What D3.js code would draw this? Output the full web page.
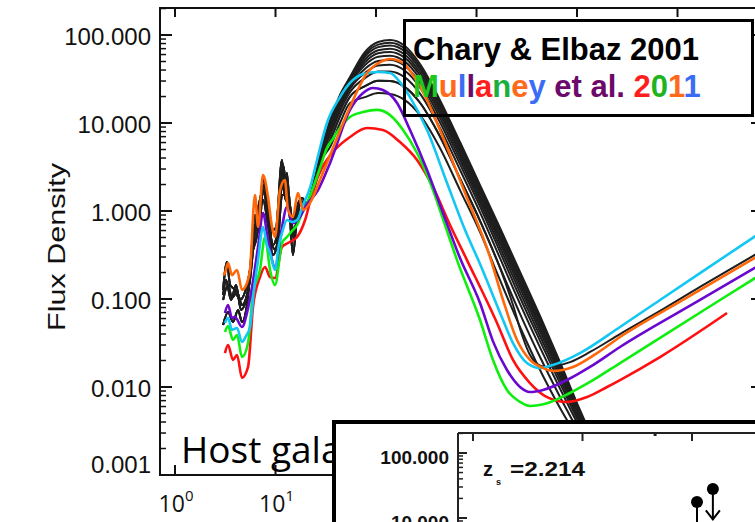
<!DOCTYPE html>
<html><head><meta charset="utf-8">
<script src="https://cdn.jsdelivr.net/npm/d3@7/dist/d3.min.js"></script>
<style>body{margin:0;background:#fff}svg{display:block}</style>
</head><body>
<svg id="c" width="755" height="522"></svg>
<script>
// ---------------- DATA ----------------
// Mullaney et al. 2011 templates: [wavelength (um), flux density]
const mullCyan = [[3.14,0.0534],[3.37,0.0608],[3.69,0.0445],[4.14,0.0468],[4.64,0.0325],[5.09,0.038],[5.57,0.0481],[6.11,0.127],[6.70,0.277],[7.51,0.658],[8.23,0.411],[8.82,0.333],[9.89,0.214],[10.8,0.411],[11.6,0.562],[13.0,0.791],[14.6,0.75],[16.4,0.791],[18.8,1.17],[22.0,1.82],[25.9,3.8],[32.5,10.0],[43.8,19.7],[55.1,28.5],[74.3,36.0],[105,38.0],[138,37.0],[173,29.2],[218,19.7],[322,8.32],[509,2.08],[769,0.608],[1084,0.25],[1714,0.07],[2307,0.0316],[3179,0.0187],[4285,0.0164],[5770,0.0178],[10700,0.0243],[26800,0.0481],[67000,0.0975],[167500,0.197],[709000,0.593]];
const mullOrange = [[3.01,0.187],[3.14,0.197],[3.37,0.257],[3.69,0.187],[4.14,0.214],[4.64,0.127],[5.20,0.152],[5.57,0.214],[6.25,1.52],[6.70,0.658],[7.51,2.57],[8.42,1.44],[9.23,0.658],[9.89,0.507],[11.1,1.73],[12.4,2.25],[13.3,1.03],[14.9,0.855],[16.7,1.6],[18.8,1.03],[22.0,1.23],[27.7,2.25],[37.3,5.2],[55.1,15.2],[81.4,37.0],[110,49.3],[138,53.4],[186,48.1],[233,35.1],[322,18.2],[433,8.32],[769,1.6],[1363,0.3],[1836,0.0975],[2530,0.0342],[3405,0.0203],[4590,0.0164],[5770,0.0152],[9120,0.0169],[15810,0.0243],[26800,0.037],[113500,0.0975],[709000,0.333]];
const mullPurple = [[3.14,0.0693],[3.37,0.0855],[3.69,0.0608],[3.95,0.0624],[4.64,0.0481],[5.20,0.0693],[5.84,0.137],[6.70,0.39],[7.51,0.949],[8.42,0.468],[9.89,0.231],[11.6,0.658],[13.0,1.11],[14.9,0.731],[17.5,0.855],[19.7,1.11],[26.5,1.73],[34.9,3.51],[55.1,14.1],[74.3,21.9],[93.3,25.0],[117,23.7],[162,16.9],[218,8.32],[322,2.92],[464,0.949],[685,0.292],[1084,0.0901],[1459,0.033],[2010,0.0156],[2710,0.01],[3405,0.00877],[4590,0.00925],[7950,0.012],[13470,0.0169],[26800,0.0285],[167500,0.0975],[709000,0.257]];
const mullGreen = [[3.14,0.0422],[3.37,0.0494],[3.78,0.0342],[4.14,0.039],[4.64,0.0219],[5.33,0.0316],[5.97,0.117],[7.01,0.214],[7.86,0.507],[8.82,0.214],[9.89,0.144],[11.6,0.433],[13.0,0.507],[14.9,0.608],[16.4,0.693],[18.4,0.949],[20.6,1.23],[27.7,3.08],[32.5,5.2],[36.5,6.41],[43.8,8.77],[55.1,11.7],[74.3,13.3],[102,14.1],[138,12.3],[186,8.32],[256,4.56],[369,1.73],[486,0.693],[640,0.277],[1084,0.0577],[1459,0.0203],[2010,0.00925],[2710,0.00676],[3405,0.00608],[5030,0.00653],[8520,0.00855],[13470,0.0114],[26800,0.0187],[265000,0.0975],[709000,0.197]];
const mullRed = [[3.14,0.0243],[3.37,0.03],[3.78,0.0203],[4.14,0.0231],[4.64,0.0127],[5.33,0.0169],[5.97,0.0811],[7.01,0.178],[7.86,0.231],[8.82,0.178],[9.89,0.173],[11.6,0.39],[13.3,0.433],[16.4,0.507],[19.7,0.791],[23.6,1.73],[29.0,3.08],[37.3,4.68],[55.1,6.93],[81.4,8.77],[117,8.32],[173,6.08],[256,3.8],[369,1.87],[545,0.693],[804,0.277],[1600,0.0534],[2307,0.0203],[3405,0.0111],[5030,0.00769],[7950,0.00676],[12580,0.00769],[19900,0.01],[26800,0.012],[67000,0.0219],[311000,0.0693]];

// Chary & Elbaz 2001 templates: mid-IR parts (noisy PAH region)
const ceMIR_A = [[3.01,0.127],[3.29,0.263],[3.53,0.144],[3.95,0.127],[4.43,0.0975],[4.97,0.12],[5.57,0.214],[6.25,0.901],[6.70,0.693],[7.51,2.37],[8.23,1.33],[9.23,0.608],[10.1,0.641],[11.6,3.8],[12.4,1.73],[13.0,2.7],[13.9,0.901],[14.9,0.316],[16.4,0.901],[18.4,1.41]];
const ceMIR_B = [[3.01,0.0975],[3.37,0.144],[3.69,0.103],[4.14,0.12],[4.64,0.0855],[5.20,0.111],[5.71,0.243],[6.25,0.693],[6.85,0.577],[7.51,1.73],[8.42,0.901],[9.44,0.411],[10.35,0.534],[11.6,1.97],[12.7,1.33],[13.9,1.17],[15.3,0.468],[16.7,1.17],[19.2,1.23]];
const ceMIR_C = [[3.01,0.0507],[3.37,0.0711],[3.78,0.0548],[4.24,0.075],[4.64,0.0548],[5.20,0.0855],[5.84,0.316],[6.40,0.468],[7.51,1.33],[8.42,0.693],[9.44,0.316],[10.6,0.468],[11.6,1.52],[13.0,1.52],[14.3,0.693],[15.6,0.901],[17.5,1.33],[20.1,1.17]];
const ceMIR_D = [[3.01,0.111],[3.22,0.164],[3.61,0.0975],[4.05,0.144],[4.54,0.075],[5.09,0.0975],[5.57,0.164],[6.11,0.468],[6.55,0.901],[7.17,1.52],[7.69,1.97],[8.42,1.17],[9.23,0.411],[10.1,0.36],[11.1,1.33],[11.9,3.33],[12.7,1.97],[13.6,1.52],[14.6,0.608],[16.0,0.693],[17.5,1.17],[19.7,1.2]];
// far-IR parts, shared wavelength grid
const ceLambda = [20.6,24.7,29.0,34.9,43.8,55.1,77.8,105,138,194,274,433,685,1084,1714,2710,4285,6777,10700,16940];
const ce00 = [1.23,2.37,5.20,10.8,20.8,33.3,64.1,83.2,87.7,75.0,46.8,18.2,6.08,1.97,0.641,0.203,0.0641,0.0192,0.00548,0.00169];
const ce01 = [1.23,2.34,5.12,10.4,20.0,32.2,60.4,77.8,81.7,69.8,43.8,17.1,5.71,1.85,0.598,0.189,0.0597,0.0181,0.00526,0.00164];
const ce02 = [1.23,2.32,5.04,10.1,19.3,31.1,57.0,72.8,76.2,65.2,40.9,16.1,5.36,1.75,0.560,0.175,0.0557,0.0171,0.00505,0.00159];
const ce03 = [1.22,2.29,4.94,9.66,18.5,29.9,53.1,67.1,70.0,59.8,37.8,14.9,4.98,1.62,0.515,0.161,0.0512,0.0158,0.0048,0.00153];
const ce04 = [1.22,2.26,4.85,9.25,17.7,28.7,49.4,62.1,64.3,55.0,34.9,13.8,4.61,1.51,0.475,0.148,0.047,0.0148,0.00456,0.00148];
const ce05 = [1.21,2.23,4.75,8.81,16.8,27.4,45.6,56.5,58.2,49.8,31.8,12.7,4.23,1.38,0.433,0.134,0.0426,0.0136,0.0043,0.00142];
const ce06 = [1.21,2.19,4.63,8.32,15.8,25.9,41.5,50.8,52.0,44.5,28.6,11.5,3.82,1.25,0.387,0.119,0.038,0.0123,0.00402,0.00135];
const ce07 = [1.20,2.15,4.50,7.82,14.9,24.4,37.2,45.1,45.8,39.2,25.4,10.2,3.41,1.12,0.343,0.104,0.0335,0.011,0.00373,0.00128];
const ce08 = [1.20,2.10,4.34,7.18,13.6,22.4,32.4,38.4,38.6,33.0,21.6,8.81,2.94,0.966,0.291,0.0879,0.0282,0.00957,0.00337,0.00119];
const ce09 = [1.19,2.02,4.10,6.32,11.9,19.9,26.2,30.2,30.0,25.6,17.0,7.03,2.34,0.774,0.228,0.0679,0.0219,0.00771,0.0029,0.00107];
const ce10 = [1.17,1.92,3.80,5.33,10.0,16.9,19.7,21.9,21.4,18.2,12.3,5.20,1.73,0.577,0.164,0.0481,0.0156,0.00577,0.00237,0.000925];
const ceRadioTail = [[1714,0.225],[2307,0.0855],[2837,0.039],[3405,0.0231],[4000,0.0183],[4805,0.0169],[6040,0.0173],[8520,0.0192],[13470,0.025],[26800,0.04],[67000,0.0731],[167500,0.137],[709000,0.36]];

// axes
const yTickValues = [0.001,0.01,0.1,1,10,100];
const yTickLabels = ["0.001","0.010","0.100","1.000","10.000","100.000"];
const xTickValues = [1,10,100,1000,10000,100000];
const xTickExp = ["0","1","2","3","4","5"];

// inset
const insetTickValues = [100,10];
const insetTickLabels = ["100.000","10.000"];
const insetXTicks = [1,10,100];
const insetLambda = [111,155];
const insetFlux = [17.6,27.9];
const insetLimit = [false,true];

// ---------------- DRAW ----------------
const svg = d3.select("#c");
const L=160,R=763,T=8,B=475;
const x = d3.scaleLog().domain([0.709,709000]).range([L,R]);
const y = d3.scaleLog().domain([0.001,202.8]).range([B,T]);

svg.append("defs").append("clipPath").attr("id","pc")
  .append("rect").attr("x",L).attr("y",T).attr("width",R-L).attr("height",B-T);

const line = d3.line().x(d=>x(d[0])).y(d=>y(d[1])).curve(d3.curveMonotoneX);
const zip = (lam,fl)=>lam.map((l,i)=>[l,fl[i]]);

const gC = svg.append("g").attr("clip-path","url(#pc)");
const blackSeries = [
  ceMIR_A.concat(zip(ceLambda,ce00)),
  ceMIR_B.concat(zip(ceLambda,ce01)),
  ceMIR_C.concat(zip(ceLambda,ce02)),
  ceMIR_D.concat(zip(ceLambda,ce03)),
  ceMIR_D.concat(zip(ceLambda,ce04)),
  ceMIR_A.concat(zip(ceLambda,ce05)),
  ceMIR_B.concat(zip(ceLambda,ce06)),
  ceMIR_C.concat(zip(ceLambda,ce07)),
  ceMIR_D.concat(zip(ceLambda,ce08)),
  ceMIR_A.concat(zip(ceLambda,ce09)),
  ceMIR_C.concat(zip(ceLambda,ce10)),
  ceMIR_B.concat(zip(ceLambda.slice(0,14),ce09.slice(0,14))).concat(ceRadioTail)
];
gC.selectAll("path.ce").data(blackSeries).enter().append("path")
  .attr("class","ce").attr("d",line).attr("fill","none")
  .attr("stroke","#1e1e1e").attr("stroke-width",2).attr("stroke-linejoin","round");

const mull = [
  {d:mullRed,c:"#ff1010"},{d:mullGreen,c:"#10ee10"},{d:mullPurple,c:"#6a08d0"},
  {d:mullCyan,c:"#12c8f2"},{d:mullOrange,c:"#ff680a"}
];
gC.selectAll("path.mu").data(mull).enter().append("path")
  .attr("class","mu").attr("d",d=>line(d.d)).attr("fill","none")
  .attr("stroke",d=>d.c).attr("stroke-width",2.6).attr("stroke-linejoin","round");

// axes frame
const ax = svg.append("g").attr("stroke","#111").attr("stroke-width",2).attr("fill","none");
ax.append("rect").attr("x",L).attr("y",T).attr("width",R-L).attr("height",B-T);
const yMinor=[];
[0.001,0.01,0.1,1,10,100].forEach(d=>{for(let k=2;k<=9;k++){if(d*k<=202.8)yMinor.push(d*k);}});
yTickValues.forEach(v=>{
  ax.append("line").attr("x1",L).attr("x2",L+12).attr("y1",y(v)).attr("y2",y(v));
  ax.append("line").attr("x1",R).attr("x2",R-12).attr("y1",y(v)).attr("y2",y(v));
});
yMinor.forEach(v=>{
  ax.append("line").attr("x1",L).attr("x2",L+6).attr("y1",y(v)).attr("y2",y(v)).attr("stroke-width",1.5);
  ax.append("line").attr("x1",R).attr("x2",R-6).attr("y1",y(v)).attr("y2",y(v)).attr("stroke-width",1.5);
});
xTickValues.forEach(v=>{
  ax.append("line").attr("x1",x(v)).attr("x2",x(v)).attr("y1",T).attr("y2",T+9);
  ax.append("line").attr("x1",x(v)).attr("x2",x(v)).attr("y1",B).attr("y2",B-10);
});

// y tick labels
svg.selectAll("text.yl").data(yTickValues).enter().append("text")
  .attr("class","yl").attr("x",151).attr("y",(d,i)=>y(d)+(i===0?-11:1))
  .attr("dy","0.36em").attr("text-anchor","end")
  .attr("font-family","Liberation Sans, Arial, sans-serif").attr("font-size",24)
  .attr("fill","#111").text((d,i)=>yTickLabels[i]);

// x tick labels
xTickValues.forEach((v,i)=>{
  const t = svg.append("text").attr("x",x(v)+1).attr("y",512).attr("text-anchor","middle")
    .attr("font-family","Open Sans, sans-serif").attr("font-size",23).attr("fill","#111");
  t.append("tspan").text("10");
  t.append("tspan").attr("dy",-11).attr("font-size",15).text(xTickExp[i]);
});

// y axis title
svg.append("text").attr("transform","translate(65,247) rotate(-90)")
  .attr("text-anchor","middle").attr("font-family","Liberation Sans, Arial, sans-serif")
  .attr("font-size",24).attr("textLength",168).attr("lengthAdjust","spacingAndGlyphs")
  .attr("fill","#111").text("Flux Density");

// legend box
svg.append("rect").attr("x",404.5).attr("y",20.5).attr("width",348).attr("height",95)
  .attr("fill","none").attr("stroke","#000").attr("stroke-width",3);
svg.append("text").attr("x",413).attr("y",60).attr("font-family","Liberation Sans, Arial, sans-serif")
  .attr("font-weight","bold").attr("font-size",31).attr("fill","#000").text("Chary & Elbaz 2001");
const legParts = [["M","#1ec81e"],["u","#ff6a1a"],["l","#3b6cf5"],["l","#6b0a6b"],["a","#ff1e1e"],["n","#1aaf3c"],["e","#ff6a1a"],["y","#3b6cf5"],[" et al. ","#6b0a6b"],["2","#ff1e1e"],["0","#1eb41e"],["1","#ff6a1a"],["1","#3b6cf5"]];
const lt = svg.append("text").attr("x",413).attr("y",97).attr("font-family","Liberation Sans, Arial, sans-serif")
  .attr("font-weight","bold").attr("font-size",31).attr("xml:space","preserve");
legParts.forEach(p=>lt.append("tspan").attr("fill",p[1]).text(p[0]));

// Host galaxy text
svg.append("text").attr("x",181).attr("y",463).attr("font-family","Open Sans, sans-serif")
  .attr("font-size",37).attr("fill","#000").text("Host galaxy");

// ---------------- INSET ----------------
const ix = d3.scaleLog().domain([0.73,968]).range([458,800]);
const iy = d3.scaleLog().domain([0.1,203]).range([648,433]);
svg.append("rect").attr("x",334).attr("y",422).attr("width",600).attr("height",300)
  .attr("fill","#fff").attr("stroke","#000").attr("stroke-width",4);
const ia = svg.append("g").attr("stroke","#222").attr("stroke-width",2);
ia.append("line").attr("x1",458).attr("x2",458).attr("y1",433).attr("y2",530);
ia.append("line").attr("x1",458).attr("x2",760).attr("y1",433).attr("y2",433);
insetXTicks.forEach(v=>ia.append("line").attr("x1",ix(v)).attr("x2",ix(v)).attr("y1",433).attr("y2",441));
ia.append("line").attr("x1",ix(46)).attr("x2",ix(46)).attr("y1",433).attr("y2",436).attr("stroke-width",3);
insetTickValues.forEach(v=>ia.append("line").attr("x1",458).attr("x2",467).attr("y1",iy(v)).attr("y2",iy(v)));
const iMinor=[];
[1,10,100].forEach(d=>{for(let k=2;k<=9;k++){if(d*k<=203)iMinor.push(d*k);}});
iMinor.forEach(v=>ia.append("line").attr("x1",458).attr("x2",463).attr("y1",iy(v)).attr("y2",iy(v)).attr("stroke-width",1.5));
svg.selectAll("text.il").data(insetTickValues).enter().append("text").attr("class","il")
  .attr("x",449).attr("y",d=>iy(d)+4).attr("dy","0.36em").attr("text-anchor","end")
  .attr("font-family","Liberation Sans, Arial, sans-serif").attr("font-weight","bold")
  .attr("font-size",19).attr("fill","#111").text((d,i)=>insetTickLabels[i]);
svg.append("text").attr("x",483).attr("y",476).attr("font-family","Liberation Sans, Arial, sans-serif")
  .attr("font-weight","bold").attr("font-size",20).attr("fill","#111").text("z");
svg.append("text").attr("x",496).attr("y",485).attr("font-family","Liberation Sans, Arial, sans-serif")
  .attr("font-weight","bold").attr("font-size",9).attr("fill","#111").text("s");
svg.append("text").attr("x",510).attr("y",476).attr("font-family","Liberation Sans, Arial, sans-serif")
  .attr("font-weight","bold").attr("font-size",20).attr("textLength",75).attr("lengthAdjust","spacingAndGlyphs")
  .attr("fill","#111").text("=2.214");
insetLambda.forEach((l,i)=>{
  const cx = ix(l), cy = iy(insetFlux[i]);
  if(insetLimit[i]){
    const ye = iy(9.5);
    svg.append("line").attr("x1",cx).attr("x2",cx).attr("y1",cy).attr("y2",ye).attr("stroke","#000").attr("stroke-width",2);
    svg.append("path").attr("d",`M${cx-7},${ye-9}L${cx},${ye}L${cx+7},${ye-9}`).attr("fill","none").attr("stroke","#000").attr("stroke-width",2);
  } else {
    svg.append("line").attr("x1",cx).attr("x2",cx).attr("y1",cy).attr("y2",iy(4)).attr("stroke","#000").attr("stroke-width",2);
  }
  svg.append("circle").attr("cx",cx).attr("cy",cy).attr("r",6).attr("fill","#000");
});
</script>
</body></html>
